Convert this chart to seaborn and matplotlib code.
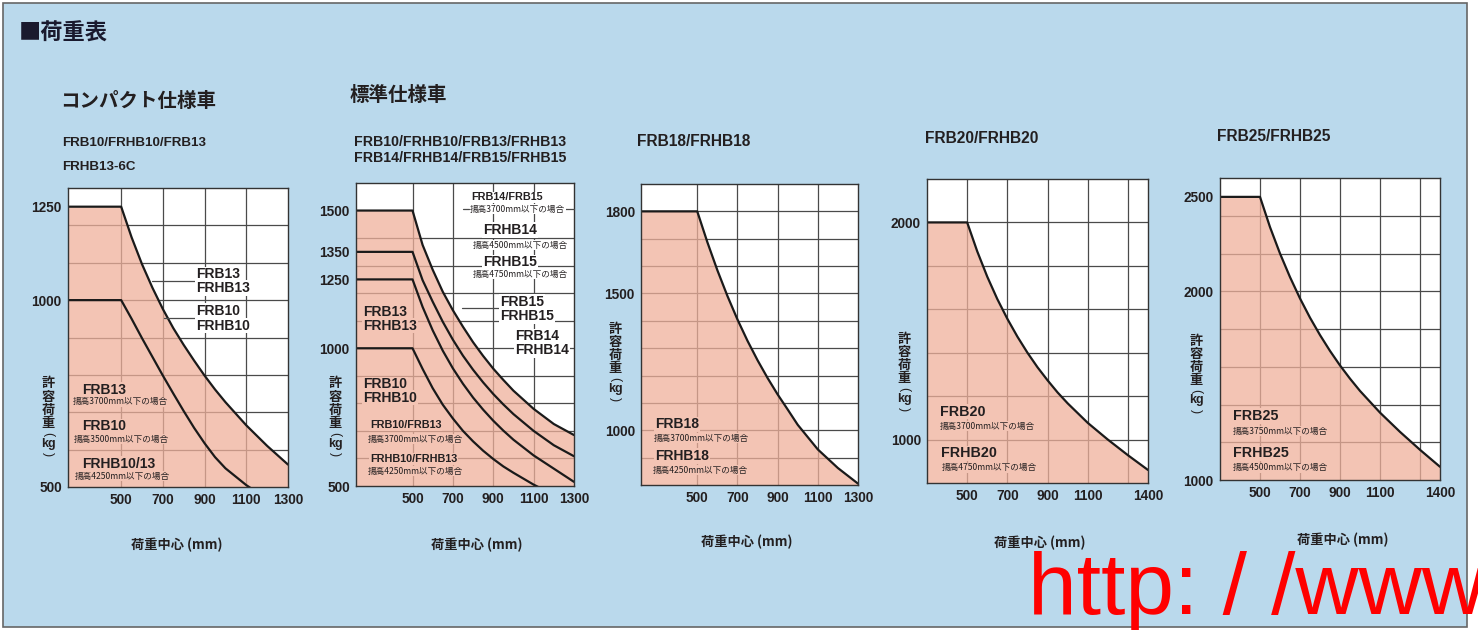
"""
荷重表 - allowable load vs. load centre charts (5 panels)
"""
import matplotlib
matplotlib.use("Agg")
import matplotlib.pyplot as plt
from matplotlib.patches import Rectangle
from matplotlib.lines import Line2D
import seaborn as sns

W, H, DPI = 1478, 630, 100

# ---- data (load centre mm -> allowable load kg) ----
# compact spec
compact_centre = [0, 500, 550, 600, 650, 700, 750, 800, 850, 900, 950, 1000, 1100, 1200, 1300]
compact_frb13 = [1250, 1250, 1168, 1096, 1033, 976, 925, 880, 838, 798, 761, 727, 665, 610, 560]
compact_frb10 = [1000, 1000, 950, 898, 848, 798, 750, 703, 658, 617, 580, 550, 505, 468, 435]

# standard spec
std_centre = [0, 500, 550, 600, 650, 700, 750, 800, 850, 900, 950, 1000, 1100, 1200, 1300]
std_frb15 = [1500, 1500, 1375, 1285, 1205, 1138, 1078, 1022, 972, 926, 885, 846, 780, 725, 685]
std_frb14 = [1350, 1350, 1247, 1169, 1096, 1031, 973, 922, 876, 834, 796, 761, 700, 648, 608]
std_frb13 = [1250, 1250, 1150, 1065, 991, 927, 871, 821, 777, 737, 701, 668, 611, 563, 515]
std_frb10 = [1000, 1000, 925, 855, 795, 745, 700, 662, 628, 598, 571, 548, 505, 468, 435]

# FRB18
frb18_centre = [0, 500, 550, 600, 650, 700, 750, 800, 850, 900, 950, 1000, 1100, 1200, 1300]
frb18_load = [1800, 1800, 1688, 1585, 1491, 1405, 1327, 1256, 1191, 1131, 1076, 1020, 930, 862, 805]

# FRB20 / FRB25
big_centre = [0, 500, 550, 600, 650, 700, 750, 800, 850, 900, 950, 1000, 1100, 1200, 1300, 1400]
frb20_load = [2000, 2000, 1867, 1750, 1647, 1556, 1474, 1400, 1333, 1273, 1217, 1167, 1077, 1000, 928, 860]
frb25_load = [2500, 2500, 2340, 2200, 2075, 1962, 1860, 1768, 1684, 1607, 1537, 1472, 1357, 1255, 1160, 1070]

ticks_1300 = [500, 700, 900, 1100, 1300]
ticks_1400 = [500, 700, 900, 1100, 1400]

# ---- style ----
BG = "#bad9ec"
INK = "#231f20"
GRID = "#4a4a4a"
PINK = "#efb09b"
PINK_BOX = "#f3c4b4"
JP = ["Noto Sans CJK JP", "DejaVu Sans"]
LAT = ["Liberation Sans", "Noto Sans CJK JP", "DejaVu Sans"]

sns.set_theme(style="white")
plt.rcParams["font.family"] = LAT

fig = plt.figure(figsize=(W / DPI, H / DPI), dpi=DPI, facecolor="white")


def fx(x):
    return x / W


def fy(y):
    return 1 - y / H


# page frame
fig.patches.append(Rectangle((fx(3), fy(627)), 1464 / W, 624 / H,
                             transform=fig.transFigure, facecolor=BG,
                             edgecolor="#666666", lw=1.2, zorder=-10))


def panel(box, xlim, ylim, xticks, yticks, xgrid, ygrid):
    left, top, right, bottom = box
    ax = fig.add_axes([fx(left), fy(bottom), (right - left) / W, (bottom - top) / H])
    ax.set_facecolor("white")
    ax.set_xlim(*xlim)
    ax.set_ylim(*ylim)
    for v in xgrid:
        ax.axvline(v, color=GRID, lw=0.9, zorder=1)
    for v in ygrid:
        ax.axhline(v, color=GRID, lw=0.9, zorder=1)
    ax.grid(False)
    ax.set_xticks(xticks)
    ax.set_yticks(yticks)
    ax.set_xticklabels([str(t) for t in xticks], family=LAT, fontsize=9.8,
                       color=INK, weight="bold")
    ax.set_yticklabels([str(t) for t in yticks], family=LAT, fontsize=9.8,
                       color=INK, weight="bold")
    ax.tick_params(axis="x", length=0, pad=4)
    ax.tick_params(axis="y", length=0, pad=4.5)
    for s in ax.spines.values():
        s.set_color("#333333")
        s.set_linewidth(1.0)
        s.set_zorder(6)
    return ax


def curves(ax, centre, outer, others=()):
    ax.fill_between(centre, 0, outer, color=PINK, alpha=0.75, lw=0, zorder=2)
    for vals in (outer,) + tuple(others):
        sns.lineplot(x=centre, y=vals, ax=ax, color="#1a1a1a", linewidth=1.6,
                     zorder=4, sort=False)
    ax.set_xlabel("")
    ax.set_ylabel("")


def label(x, y, s, size=10, fam=LAT, bg="white", weight="bold"):
    fig.text(fx(x), fy(y), s, family=fam, fontsize=size, color=INK, ha="left",
             va="center", weight=weight,
             bbox=dict(boxstyle="square,pad=0.05", fc=bg, ec="none"))


def small(x, y, s, bg=PINK_BOX):
    label(x, y, s, size=6.2, fam=JP, bg=bg, weight="normal")


def leader(x0, x1, y):
    fig.add_artist(Line2D([fx(x0), fx(x1)], [fy(y), fy(y)], transform=fig.transFigure,
                          color=GRID, lw=0.9))


def ylabel_stack(cx, top):
    # 許容荷重 stacked, then (kg) with turned brackets
    fig.text(fx(cx), fy(top - 6.5), "許\n容\n荷\n重", family=JP, fontsize=9.5, color=INK,
             ha="center", va="top", linespacing=0.93, weight="bold")
    fig.text(fx(cx), fy(top + 51), "(", family=LAT, fontsize=9, color=INK,
             ha="center", va="center", rotation=-90)
    fig.text(fx(cx), fy(top + 60.5), "kg", family=LAT, fontsize=9, color=INK,
             ha="center", va="center", weight="bold")
    fig.text(fx(cx), fy(top + 71), ")", family=LAT, fontsize=9, color=INK,
             ha="center", va="center", rotation=-90)


def xlabel(cx, cy):
    fig.text(fx(cx), fy(cy), "荷重中心 (mm)", family=JP, fontsize=9.5, color=INK,
             ha="center", va="center", weight="bold")


# ---- title / headers ----
fig.text(fx(19), fy(33), "■荷重表", family=JP, fontsize=16, color="#1a1a2e",
         ha="left", va="center", weight="bold")
fig.text(fx(60), fy(101), "コンパクト仕様車", family=JP, fontsize=14, color=INK,
         ha="left", va="center", weight="bold")
fig.text(fx(350), fy(95), "標準仕様車", family=JP, fontsize=14, color=INK,
         ha="left", va="center", weight="bold")
hdr = dict(family=LAT, color=INK, va="center", weight="bold")
fig.text(fx(62), fy(143), "FRB10/FRHB10/FRB13", fontsize=9.6, **hdr)
fig.text(fx(62), fy(167), "FRHB13-6C", fontsize=9.6, **hdr)
fig.text(fx(354), fy(141.5), "FRB10/FRHB10/FRB13/FRHB13", fontsize=10.2, **hdr)
fig.text(fx(354), fy(158.5), "FRB14/FRHB14/FRB15/FRHB15", fontsize=10.2, **hdr)
fig.text(fx(637), fy(141.5), "FRB18/FRHB18", fontsize=11.2, **hdr)
fig.text(fx(925), fy(138.5), "FRB20/FRHB20", fontsize=11.2, **hdr)
fig.text(fx(1217), fy(136.5), "FRB25/FRHB25", fontsize=11.2, **hdr)

# ---- panel 1: compact ----
ax1 = panel((68, 188, 288, 487), (245, 1300), (500, 1300), ticks_1300, [500, 1000, 1250],
            [500, 700, 900, 1100], range(600, 1201, 100))
curves(ax1, compact_centre, compact_frb13, [compact_frb10])
label(196, 274.5, "FRB13")
label(196, 288, "FRHB13")
label(196, 311, "FRB10")
label(196, 325.5, "FRHB10")
leader(152, 195, 280.7)
leader(164, 195, 317.7)
label(82.5, 389.5, "FRB13", bg=PINK_BOX)
small(73, 401.7, "揚高3700mm以下の場合")
label(82.5, 426.5, "FRB10", bg=PINK_BOX)
small(74, 439, "揚高3500mm以下の場合")
label(82.5, 464, "FRHB10/13", bg=PINK_BOX)
small(75, 476, "揚高4250mm以下の場合")
ylabel_stack(48, 383)
xlabel(177, 545)

# ---- panel 2: standard ----
ax2 = panel((356, 183, 574, 486), (220, 1300), (500, 1600), ticks_1300,
            [500, 1000, 1250, 1350, 1500], [500, 700, 900, 1100], range(600, 1401, 100))
curves(ax2, std_centre, std_frb15, [std_frb14, std_frb13, std_frb10])
label(471.5, 197.5, "FRB14/FRB15", size=7.8)
small(470, 209.3, "揚高3700mm以下の場合", bg="white")
leader(463, 469, 209.3)
leader(565, 574, 209.3)
label(483, 230, "FRHB14")
small(473, 245, "揚高4500mm以下の場合", bg="white")
label(483, 262.3, "FRHB15")
small(473, 274.3, "揚高4750mm以下の場合", bg="white")
label(500, 301.7, "FRB15")
label(500, 316.5, "FRHB15")
leader(462, 499, 308.3)
label(515, 336.5, "FRB14")
label(515, 350, "FRHB14")
label(363, 311.5, "FRB13", bg=PINK_BOX)
label(363, 325.5, "FRHB13", bg=PINK_BOX)
label(363, 384.3, "FRB10", bg=PINK_BOX)
label(363, 397.7, "FRHB10", bg=PINK_BOX)
label(370, 425.5, "FRB10/FRB13", size=7.8, bg=PINK_BOX)
small(368, 439.3, "揚高3700mm以下の場合")
label(370, 459, "FRHB10/FRHB13", size=7.8, bg=PINK_BOX)
small(368, 471, "揚高4250mm以下の場合")
ylabel_stack(335, 383)
xlabel(477, 545)

# ---- panel 3: FRB18 ----
ax3 = panel((641, 184, 858, 485), (220, 1300), (800, 1900), ticks_1300, [1000, 1500, 1800],
            [500, 700, 900, 1100], range(900, 1801, 100))
curves(ax3, frb18_centre, frb18_load)
label(655, 424.5, "FRB18", bg=PINK_BOX)
small(654, 438.3, "揚高3700mm以下の場合")
label(655, 456, "FRHB18", bg=PINK_BOX)
small(653, 470, "揚高4250mm以下の場合")
ylabel_stack(615, 328.3)
xlabel(747, 541.7)

# ---- panel 4: FRB20 ----
ax4 = panel((927, 179, 1148, 483), (300, 1400), (800, 2200), ticks_1400, [1000, 2000],
            [500, 700, 900, 1100, 1300], range(1000, 2001, 200))
curves(ax4, big_centre, frb20_load)
label(940, 411.7, "FRB20", size=10.3, bg=PINK_BOX)
small(940, 426, "揚高3700mm以下の場合")
label(941.5, 453.3, "FRHB20", size=10.3, bg=PINK_BOX)
small(941.5, 467.7, "揚高4750mm以下の場合")
ylabel_stack(904, 338.3)
xlabel(1040, 543.3)

# ---- panel 5: FRB25 ----
ax5 = panel((1220, 178, 1440, 480), (300, 1400), (1000, 2600), ticks_1400, [1000, 2000, 2500],
            [500, 700, 900, 1100, 1300], range(1200, 2401, 200))
curves(ax5, big_centre, frb25_load)
label(1233, 416, "FRB25", size=10.3, bg=PINK_BOX)
small(1233, 431, "揚高3750mm以下の場合")
label(1233, 453.3, "FRHB25", size=10.3, bg=PINK_BOX)
small(1233, 467.7, "揚高4500mm以下の場合")
ylabel_stack(1196, 340)
xlabel(1343, 540)

# watermark overlay
fig.text(fx(1028), fy(614), "http: / /www", family=LAT, fontsize=63, color="#ff0000",
         ha="left", va="baseline")

fig.savefig("out.png", dpi=DPI, facecolor=fig.get_facecolor())
